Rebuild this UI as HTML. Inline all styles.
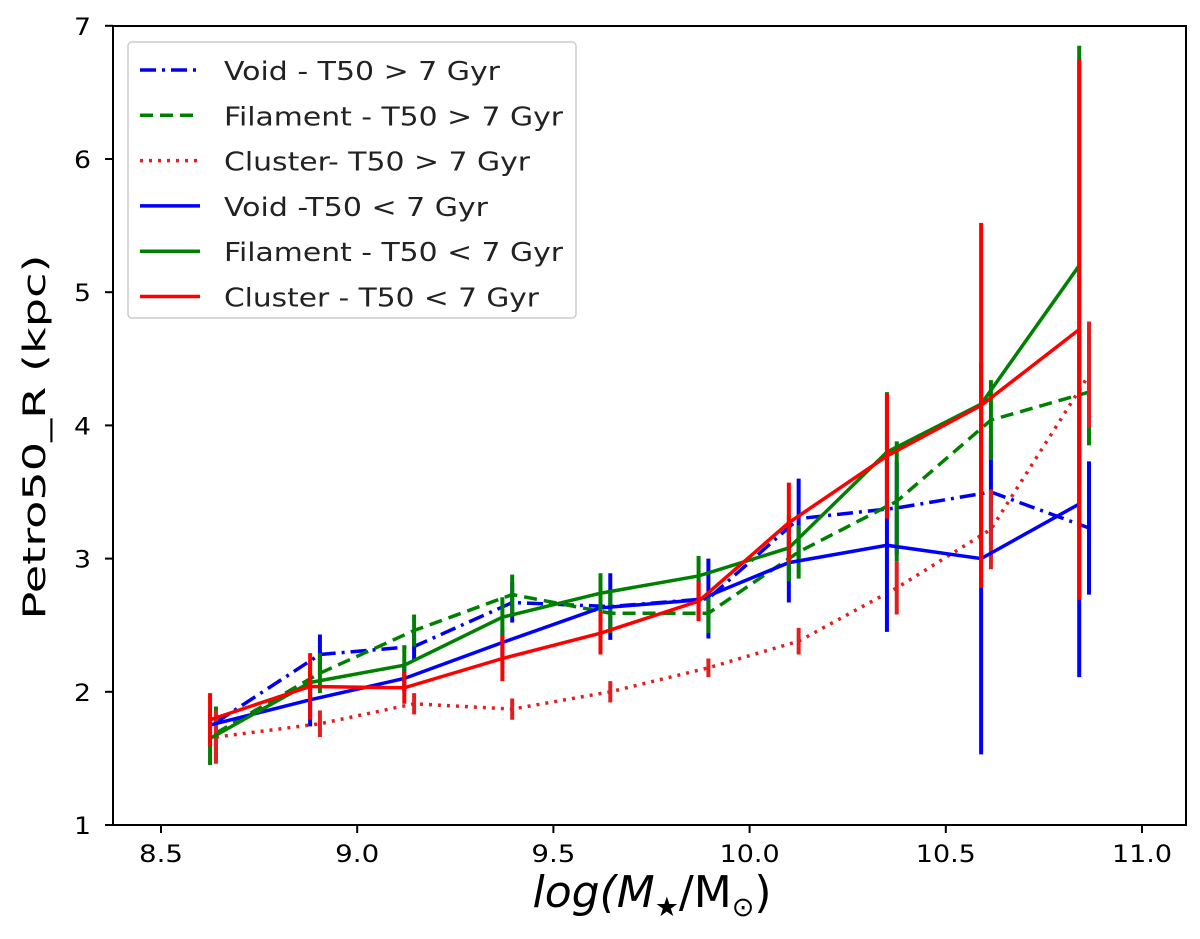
<!DOCTYPE html>
<html><head><meta charset="utf-8"><style>
html,body{margin:0;padding:0;background:#fff;}
svg{display:block;font-family:"DejaVu Sans","Liberation Sans",sans-serif;}
</style></head><body>
<svg id="chart" width="1200" height="939" viewBox="0 0 1200 939">
<g id="plot"></g>
<rect x="113" y="26" width="1073" height="799" fill="none" stroke="#000" stroke-width="2"/>
<g id="axes"></g>
<text x="45" y="437" transform="rotate(-90 45 437)" text-anchor="middle" font-size="31" textLength="365" lengthAdjust="spacingAndGlyphs">Petro50_R (kpc)</text>
<text x="652" y="907" text-anchor="middle" font-size="44" font-style="italic">log(M<tspan font-size="27" dy="9">★</tspan><tspan dy="-9" font-style="normal">/M</tspan><tspan font-size="27" dy="9" font-style="normal">⊙</tspan><tspan dy="-9" font-style="normal">)</tspan></text>
<g id="legend"></g>
</svg>
<script>
const xsSolid=[8.625,8.88,9.12,9.37,9.62,9.87,10.10,10.35,10.59,10.84];
const xsDashed=[8.64,8.905,9.145,9.395,9.645,9.895,10.125,10.375,10.615,10.865];
const voidOld=[1.77,2.28,2.34,2.67,2.64,2.70,3.30,3.38,3.50,3.23];
const filOld=[1.69,2.14,2.46,2.73,2.59,2.59,3.05,3.43,4.04,4.25];
const cluOld=[1.66,1.76,1.91,1.87,2.00,2.18,2.38,2.78,3.22,4.38];
const voidYoung=[1.75,1.94,2.10,2.37,2.63,2.69,2.97,3.10,3.00,3.41];
const filYoung=[1.65,2.07,2.20,2.56,2.74,2.87,3.08,3.80,4.16,5.20];
const cluYoung=[1.79,2.04,2.03,2.25,2.44,2.68,3.27,3.77,4.15,4.72];
const voidOldErr=[0.05,0.15,0.1,0.15,0.25,0.3,0.3,0.35,0.4,0.5];
const filOldErr=[0.2,0.15,0.12,0.15,0.15,0.15,0.2,0.45,0.3,0.4];
const cluOldErr=[0.2,0.1,0.08,0.08,0.08,0.07,0.1,0.2,0.3,0.4];
const voidYoungErr=[0.06,0.2,0.1,0.1,0.15,0.15,0.3,0.65,1.47,1.3];
const filYoungErr=[0.2,0.15,0.15,0.15,0.15,0.15,0.25,0.45,0.15,1.65];
const cluYoungErr=[0.2,0.25,0.12,0.17,0.16,0.15,0.3,0.47,1.37,2.03];
const xTicks=[8.5,9.0,9.5,10.0,10.5,11.0];
const xTickLabels=["8.5","9.0","9.5","10.0","10.5","11.0"];
const yTicks=[1,2,3,4,5,6,7];
const seriesNames=["Void - T50 > 7 Gyr","Filament - T50 > 7 Gyr","Cluster- T50 > 7 Gyr","Void -T50 < 7 Gyr","Filament - T50 < 7 Gyr","Cluster - T50 < 7 Gyr"];

const NS="http://www.w3.org/2000/svg";
function xScale(v){return 161+(v-8.5)*392.4;}
function yScale(v){return 825-(v-1)*133.2;}
function mk(tag,attrs,parent){const e=document.createElementNS(NS,tag);for(const k in attrs)e.setAttribute(k,attrs[k]);parent.appendChild(e);return e;}

const plot=document.getElementById('plot');
const axes=document.getElementById('axes');
const series=[
 {name:'void-old',xs:xsDashed,ys:voidOld,err:voidOldErr,color:'#0000ee',dash:'16,6,3,6'},
 {name:'filament-old',xs:xsDashed,ys:filOld,err:filOldErr,color:'#008000',dash:'13,7'},
 {name:'cluster-old',xs:xsDashed,ys:cluOld,err:cluOldErr,color:'#e02020',dash:'3,6'},
 {name:'void-young',xs:xsSolid,ys:voidYoung,err:voidYoungErr,color:'#0000ff',dash:''},
 {name:'filament-young',xs:xsSolid,ys:filYoung,err:filYoungErr,color:'#008000',dash:''},
 {name:'cluster-young',xs:xsSolid,ys:cluYoung,err:cluYoungErr,color:'#ff0000',dash:''}
];
series.forEach(s=>{
  const g=mk('g',{},plot);
  
  
  s.xs.forEach((x,i)=>{
    const b=mk('line',{x1:xScale(x),x2:xScale(x),y1:yScale(s.ys[i]-s.err[i]),y2:yScale(s.ys[i]+s.err[i]),stroke:s.color,'stroke-width':4},g);
    
    
  });
  const pts=s.xs.map((x,i)=>xScale(x)+','+yScale(s.ys[i])).join(' ');
  const l=mk('polyline',{points:pts,fill:'none',stroke:s.color,'stroke-width':3.5,'stroke-dasharray':s.dash},g);
  
  
});
xTicks.forEach((t,i)=>{
  const x=xScale(t);
  const tk=mk('line',{x1:x,x2:x,y1:825,y2:833,stroke:'#000','stroke-width':2},axes);
  
  
  const lab=xTickLabels[i];
  const tx=mk('text',{x:x,y:862,'text-anchor':'middle','font-size':24,textLength:(lab.length===3?44:60),lengthAdjust:'spacingAndGlyphs'},axes);
  tx.textContent=lab;
  
  
});
yTicks.forEach(t=>{
  const y=yScale(t);
  const tk=mk('line',{x1:105,x2:113,y1:y,y2:y,stroke:'#000','stroke-width':2},axes);
  
  
  const tx=mk('text',{x:91,y:y+9,'text-anchor':'end','font-size':24,textLength:17,lengthAdjust:'spacingAndGlyphs'},axes);
  tx.textContent=String(t);
  
  
});
const leg=document.getElementById('legend');
mk('rect',{x:128,y:42,width:448,height:276,rx:4,fill:'#fff','fill-opacity':0.85,stroke:'#ccc','stroke-width':1.5},leg);
const legWidths=[276,339,306,264,339,315];
seriesNames.forEach((n,i)=>{
  const y=70+i*45.3;
  const s=series[i];
  const e=mk('g',{},leg);
  
  
  mk('line',{x1:140,x2:200,y1:y,y2:y,stroke:s.color,'stroke-width':3.5,'stroke-dasharray':s.dash},e);
  const t=mk('text',{x:224,y:y+10,'font-size':26,fill:'#222',textLength:legWidths[i],lengthAdjust:'spacingAndGlyphs'},e);
  t.textContent=n;
});
</script>
</body></html>
